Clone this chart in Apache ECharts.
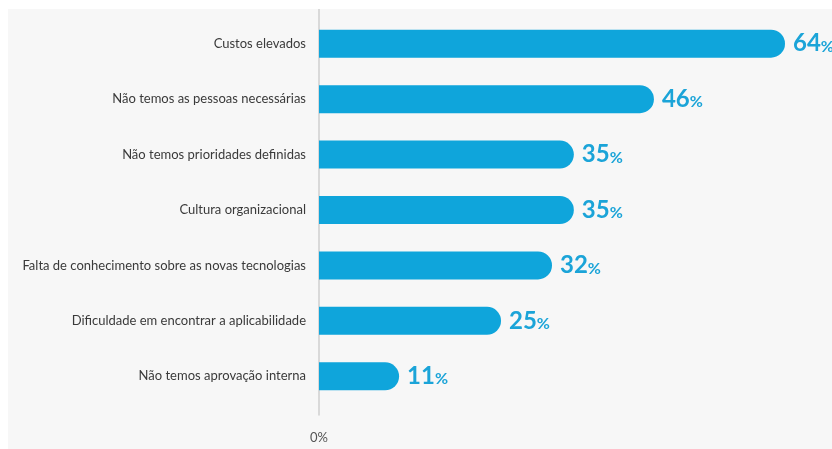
<!DOCTYPE html>
<html>
<head>
<meta charset="utf-8">
<script src="https://cdn.jsdelivr.net/npm/echarts@6/dist/echarts.min.js"></script>
<style>
    html, body { margin: 0; padding: 0; background: #ffffff; }
    #chart { position: absolute; left: 8px; top: 9px; width: 824px; height: 440px; background: #f7f7f7; }
</style>
</head>
<body>
<div id="chart"></div>
<script>
// dados
var categories = [
    'Custos elevados',
    'Não temos as pessoas necessárias',
    'Não temos prioridades definidas',
    'Cultura organizacional',
    'Falta de conhecimento sobre as novas tecnologias',
    'Dificuldade em encontrar a aplicabilidade',
    'Não temos aprovação interna'
];
var values = [64, 46, 35, 35, 32, 25, 11];
var axisMin = 0;
var axisMax = 64;

var myChart = echarts.init(document.getElementById('chart'));

var option = {
    animation: false,
    grid: [
        {left: 311, right: 47, top: 7, bottom: 45},
        {left: 311, right: 47, top: 0, bottom: 34}
    ],
    xAxis: [
        {
            type: 'value', gridIndex: 0, min: axisMin, max: axisMax, interval: axisMax,
            splitLine: {show: false}, axisLine: {show: false}, axisTick: {show: false},
            axisLabel: {
                margin: 27, color: '#555', fontSize: 13, fontFamily: 'Lato',
                formatter: function (v) { return v === 0 ? '0%' : ''; }
            }
        },
        {
            type: 'value', gridIndex: 1, min: axisMin, max: axisMax,
            show: false
        }
    ],
    yAxis: [
        {
            type: 'category', gridIndex: 0, data: categories, inverse: true,
            axisLine: {show: false}, axisTick: {show: false},
            axisLabel: {margin: 13, color: '#3a3a3a', fontSize: 13, fontFamily: 'Lato'}
        },
        {
            type: 'category', gridIndex: 1, data: [''],
            axisLine: {show: true, lineStyle: {color: '#cfcfcf', width: 1.5}},
            axisTick: {show: false}, axisLabel: {show: false}
        }
    ],
    series: [
        {
            type: 'bar',
            xAxisIndex: 0, yAxisIndex: 0,
            data: values,
            barWidth: 28,
            itemStyle: {color: '#0fa5db', borderRadius: [0, 14, 14, 0]},
            label: {
                show: true, position: 'right', distance: 8,
                formatter: function (p) { return '{n|' + p.value + '}{p|%}'; },
                rich: {
                    n: {fontSize: 24, fontWeight: 'bold', color: '#1ba4d8', fontFamily: 'Lato'},
                    p: {fontSize: 16, fontWeight: 'bold', color: '#1ba4d8', fontFamily: 'Lato', padding: [6, 0, 0, 0]}
                }
            }
        }
    ]
};

myChart.setOption(option);
</script>
</body>
</html>
